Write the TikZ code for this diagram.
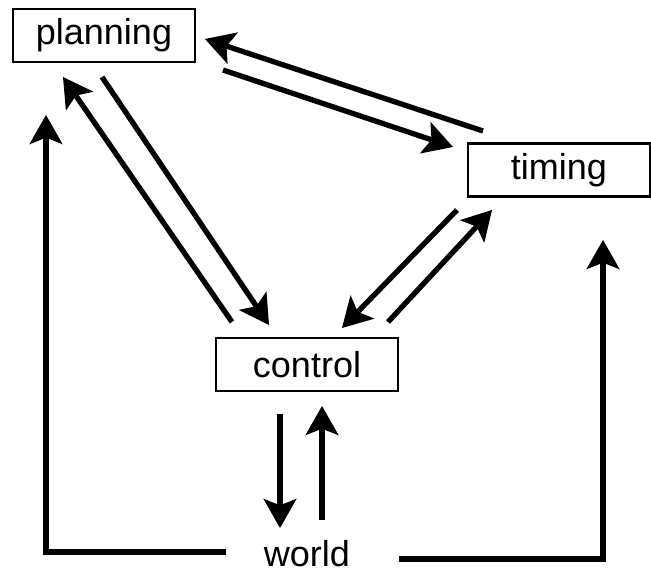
\documentclass[tikz,border=0pt]{standalone}
\usepackage{fontspec}
\setmainfont{Liberation Sans}
\usetikzlibrary{arrows.meta}
\begin{document}
\begin{tikzpicture}[x=0.75pt,y=-0.75pt,
  box/.style={draw,line width=1.8pt,minimum width=136.5pt,minimum height=39.75pt,inner sep=0pt,font=\fontsize{27}{30}\selectfont},
  lbl/.style={inner sep=0pt,font=\fontsize{27}{30}\selectfont},
  conn/.style={line width=4pt,-{Stealth[length=22pt,width=25pt,inset=5pt,line width=1pt]}}]
\useasboundingbox (0,0) rectangle (651,573);
\node[box] (planning) at (104,35.5) {planning};
\node[box] (timing) at (559,170) {timing};
\node[box] (control) at (307,364.5) {control};
\node[lbl,anchor=base] (world) at (307,567) {world};
% timing <-> planning
\coordinate (t1) at (483,131);
\coordinate (p1) at (205,39);
\draw[conn] (t1) -- (p1);
\coordinate (p2) at (223,70);
\coordinate (t2) at (453,147);
\draw[conn] (p2) -- (t2);
% control <-> planning
\coordinate (c3) at (232,322);
\coordinate (p3) at (63,77);
\draw[conn] (c3) -- (p3);
\coordinate (p4) at (102,77);
\coordinate (c4) at (269,325);
\draw[conn] (p4) -- (c4);
% timing <-> control
\coordinate (t5) at (457,210);
\coordinate (c5) at (342,328);
\draw[conn] (t5) -- (c5);
\coordinate (c6) at (388,322);
\coordinate (t6) at (492,210);
\draw[conn] (c6) -- (t6);
% control <-> world
\coordinate (c7) at (280,414);
\coordinate (w7) at (280,528);
\draw[conn] (c7) -- (w7);
\coordinate (w8) at (322,520);
\coordinate (c8) at (322,406);
\draw[conn] (w8) -- (c8);
% world -> planning
\coordinate (w9) at (226,552);
\coordinate (p9) at (46,115);
\draw[conn] (w9) -| (p9);
% world -> timing
\coordinate (w10) at (399,559);
\coordinate (t10) at (603,240);
\draw[conn] (w10) -| (t10);
\end{tikzpicture}
\end{document}
